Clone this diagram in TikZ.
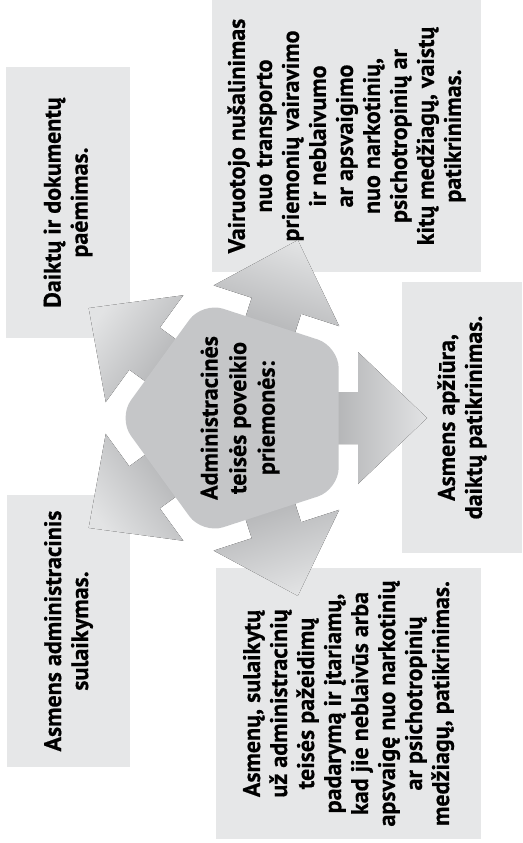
\documentclass[tikz,border=0pt]{standalone}
\usepackage{fontspec}
\setmainfont{PT Sans}[BoldFeatures={FakeBold=0.6}]
\usepackage{tikz}
\usetikzlibrary{shapes.geometric}
\definecolor{boxgray}{RGB}{230,231,232}
\definecolor{hubgray}{RGB}{197,198,200}
\definecolor{arrowdark}{RGB}{172,173,175}
\definecolor{arrowlight}{RGB}{226,227,228}

\begin{document}
\begin{tikzpicture}[x=1pt,y=-1pt]
	\useasboundingbox (0,0) rectangle (522,843);
	\tikzstyle{every node}=[font=\fontsize{24}{27}\selectfont\bfseries, align=center, rotate=90, inner sep=0pt]
	\tikzstyle{box}=[fill=boxgray, minimum width=271, minimum height=124]
	% outer boxes
	\draw (68,202.5) node (daiktai) [box] {Daiktų ir dokumentų\\paėmimas.};
	\draw (346.5,136) node (vairuotojas) [box, minimum width=272, minimum height=269] {Vairuotojo nušalinimas\\nuo transporto\\priemonių vairavimo\\ir neblaivumo\\ar apsvaigimo\\nuo narkotinių,\\psichotropinių ar\\kitų medžiagų, vaistų\\patikrinimas.};
	\draw (462,417.5) node (apziura) [box, minimum height=120] {Asmens apžiūra,\\daiktų patikrinimas.};
	\draw (68.5,631) node (sulaikymas) [box, minimum width=272, minimum height=123] {Asmens administracinis\\sulaikymas.};
	\draw (348.5,703.5) node (asmenys) [box, minimum height=265] {Asmenų, sulaikytų\\už administracinių\\teisės pažeidimų\\padarymą ir įtariamų,\\kad jie neblaivūs arba\\apsvaigę nuo narkotinių\\ar psichotropinių\\medžiagų, patikrinimas.};
	% arrows out of the hub
	\coordinate (hub) at (240,418);
	\foreach \a/\s in {0/-90, 72/-18, 144/54, 216/126, 288/198}
		\fill [shift={(hub)}, rotate=\a, top color=arrowlight, bottom color=arrowdark, shading angle=\s]
			(80,-26) -- (118,-26) -- (118,-66) -- (187,0) -- (118,66) -- (118,26) -- (80,26) -- cycle;
	% hub
	\draw (hub) node (centre) [regular polygon, regular polygon sides=5, minimum size=244, rounded corners=22, fill=hubgray] {};
	\draw (hub) node (centretext) [font=\fontsize{24}{28.5}\selectfont\bfseries] {Administracinės\\teisės poveikio\\priemonės:};
\end{tikzpicture}
\end{document}
